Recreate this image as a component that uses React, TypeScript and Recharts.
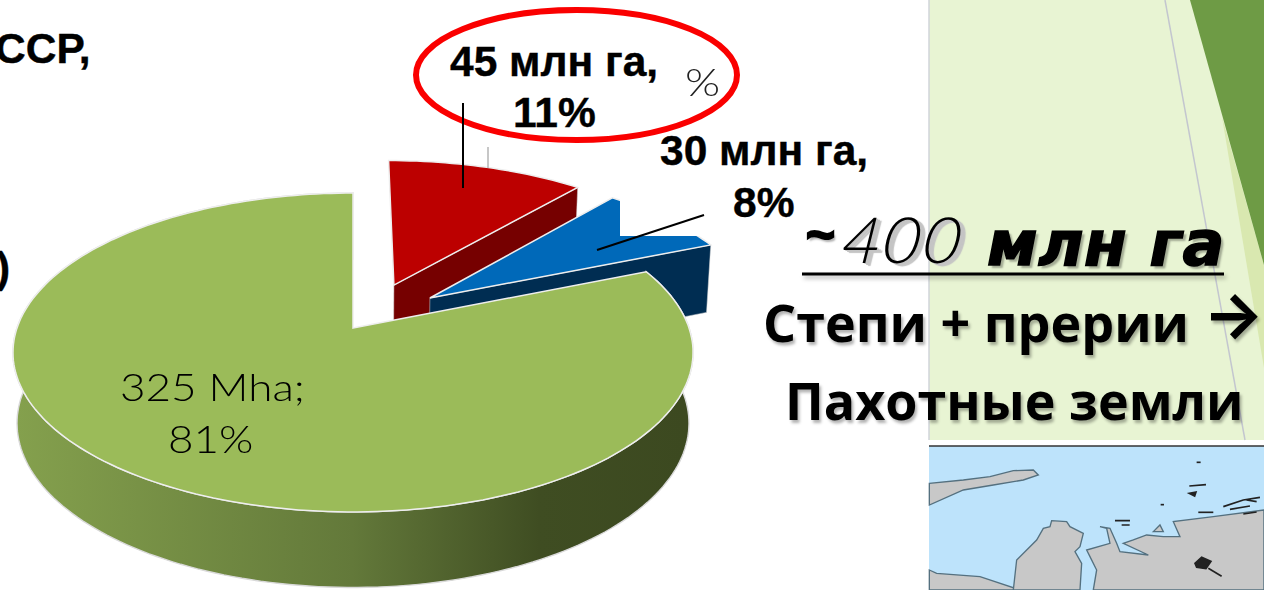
import { Pie, PieChart } from "recharts";
import type { CSSProperties } from "react";

const sliceNames = ["Распаханные степи", "Прерии", "Прочее"];
const sliceValues = [45, 30, 325];
const shortLabels = ["45 млн га,", "30 млн га,", "325 Mha;"];
const percentLabels = ["11%", "8%", "81%"];

const pieData = sliceNames.map((name, i) => ({ name, value: sliceValues[i] }));

const faceColors = ["#bc0000", "#0069b9", "#9bbb59"];
const wallColors = ["#760000", "#002d52", "url(#greenWall)"];
// how far each slice is pulled out, in disc units
const explodeU = [0.127, 0.236, 0];
const explodeV = [0.288, 0.1985, 0];

const PERSPECTIVE = 0.1536;
const FLATTEN = 0.4634;
const BASE_SX = 0.988;
const BASE_SY = 1.03;
const BASE_DY = 70;

function project(cx: number, cy: number, r: number, u: number, v: number, base = false) {
  const d = 1 + PERSPECTIVE * v;
  const sx = base ? BASE_SX : 1;
  const sy = base ? BASE_SY : 1;
  return [cx + (sx * r * u) / d, cy + (base ? BASE_DY : 0) - (sy * r * FLATTEN * v) / d];
}

const toPath = (pts: number[][]) =>
  "M" + pts.map((p) => `${p[0].toFixed(1)} ${p[1].toFixed(1)}`).join("L") + "Z";

function Slice3D(props: any) {
  const { cx, cy, outerRadius, startAngle, endAngle, index } = props;
  const ou = explodeU[index];
  const ov = explodeV[index];
  const from = ((90 - startAngle) * Math.PI) / 180;
  const to = ((90 - endAngle) * Math.PI) / 180;
  const steps = Math.max(8, Math.round((to - from) * 40));
  const arc: number[][] = [];
  for (let i = 0; i <= steps; i++) {
    const t = from + ((to - from) * i) / steps;
    arc.push([ou + Math.sin(t), ov + Math.cos(t)]);
  }
  const top = arc.map((p) => project(cx, cy, outerRadius, p[0], p[1]));
  const base = arc.map((p) => project(cx, cy, outerRadius, p[0], p[1], true));
  const apex = project(cx, cy, outerRadius, ou, ov);
  const apexBase = project(cx, cy, outerRadius, ou, ov, true);

  let wall: number[][];
  if (index === 2) {
    wall = [...top, ...base.slice().reverse()];
  } else {
    // only the cut side at the end of the slice faces us
    wall = [apex, top[top.length - 1], base[base.length - 1], apexBase];
  }
  return (
    <g>
      {index === 2 && (
        <defs>
          <linearGradient id="greenWall" gradientUnits="userSpaceOnUse" x1={18} x2={686} y1={0} y2={0}>
            <stop offset="0%" stopColor="#84a04d" />
            <stop offset="50%" stopColor="#63793a" />
            <stop offset="78%" stopColor="#3f4d22" />
            <stop offset="100%" stopColor="#3c4920" />
          </linearGradient>
        </defs>
      )}
      <path d={toPath(wall)} fill={wallColors[index]} stroke="#d9d9d9" strokeWidth={index === 2 ? 1.4 : 0.5} />
      <path d={toPath([apex, ...top])} fill={faceColors[index]} stroke="#eeeeee" strokeWidth={1.5} />
    </g>
  );
}

const boldLabel: CSSProperties = {
  position: "absolute",
  fontFamily: "Liberation Sans",
  fontWeight: 700,
  fontSize: 42.5,
  color: "#000",
  whiteSpace: "nowrap",
  lineHeight: "44px",
  WebkitTextStroke: "0.4px #000",
};

const slideText: CSSProperties = {
  position: "absolute",
  fontFamily: "Open Sans",
  fontWeight: 700,
  fontSize: 52,
  color: "#000",
  whiteSpace: "nowrap",
  textShadow: "2px 3px 3px rgba(0,0,0,0.3)",
};

const thinLabel: CSSProperties = {
  position: "absolute",
  fontFamily: "Lato",
  fontWeight: 300,
  fontSize: 37,
  color: "#000",
  whiteSpace: "nowrap",
  transformOrigin: "left top",
  transform: "scaleX(1.19)",
};

const headingBase: CSSProperties = {
  position: "absolute",
  color: "#000",
  whiteSpace: "nowrap",
  fontStyle: "italic",
};

export default function App() {
  return (
    <div style={{ position: "absolute", left: 0, top: 0, width: 1264, height: 590, overflow: "hidden", background: "#fff" }}>
      {/* slide background on the right */}
      <svg width={1264} height={590} style={{ position: "absolute", left: 0, top: 0 }}>
        <rect x={929} y={0} width={335} height={440} fill="#e8f4d3" />
        <line x1={929} y1={0} x2={929} y2={440} stroke="#d0d4da" strokeWidth={1.5} />
        <line x1={1165} y1={0} x2={1245} y2={440} stroke="#c3c6cf" strokeWidth={1.5} />
        <polygon points="1222,117 1264,265 1264,368" fill="#d9e8b0" />
        <polygon points="1190,0 1264,0 1264,265" fill="#6e9b45" />
        <rect x={929} y={446} width={335} height={144} fill="#bde3fb" />
        <line x1={929} y1={446} x2={1264} y2={446} stroke="#333" strokeWidth={1.5} />
        <g transform="translate(880 400) scale(0.3333)" fill="#c8c8c8" stroke="#54707f" strokeWidth={4}>
          <path d="M148 250L250 240L330 230L400 212L460 210L475 225L430 240L340 255L250 270L148 315Z" />
          <path d="M148 510L170 520L300 530L420 570L148 570Z" />
          <path d="M400 570L410 480L470 420L490 385L510 380L515 362L560 365L570 380L610 400L600 440L585 455L605 490L600 570Z" />
          <path d="M640 570L650 510L630 470L620 450L690 430L680 385L660 380L690 385L710 430L720 455L805 465L730 430L760 420L800 405L850 410L900 410L880 365L1000 350L1152 330L1152 570Z" />
          <path d="M820 395L840 375L850 395Z" />
          <g fill="none" stroke="#222" strokeWidth={5}>
            <path d="M950 187h12" />
            <path d="M928 258l50 -4" />
            <path d="M928 280l20 -4l-4 12Z" fill="#222" />
            <path d="M842 314h10" />
            <path d="M1030 320l60 -20l50 -8M1050 328l60 -10M1090 342l40 -6M1100 300l30 5" />
            <path d="M945 490l20 -18l28 12l-15 22l-28 -4Z" fill="#222" />
            <path d="M985 505l40 24" />
            <path d="M955 337h45" />
            <path d="M705 362h45M725 375h24" />
          </g>
        </g>
      </svg>

      <div style={{ position: "absolute", left: 0, top: 0 }}>
        <PieChart width={1264} height={590} margin={{ top: 0, right: 0, bottom: 0, left: 0 }}>
          <Pie
            data={pieData}
            dataKey="value"
            nameKey="name"
            cx={353}
            cy={328}
            outerRadius={336}
            startAngle={90}
            endAngle={-270}
            stroke="none"
            labelLine={false}
            isAnimationActive={false}
            shape={Slice3D}
          />
        </PieChart>
      </div>

      {/* the white patch and leader lines sit over the slices */}
      <svg width={1264} height={590} style={{ position: "absolute", left: 0, top: 0 }}>
        <rect x={620} y={190} width={95} height={46} fill="#fff" />
        <line x1={488} y1={147} x2={488} y2={168} stroke="#b5b5b5" strokeWidth={1.5} />
        <ellipse cx={576.5} cy={75} rx={160.5} ry={65} fill="none" stroke="#fa0000" strokeWidth={6} />
        <line x1={463} y1={103} x2={463} y2={188} stroke="#000" strokeWidth={2} />
        <line x1={704} y1={215} x2={597} y2={250} stroke="#000" strokeWidth={2} />
        <line x1={802} y1={274} x2={1224} y2={274} stroke="#000" strokeWidth={3} style={{ filter: "drop-shadow(2px 3px 2px rgba(0,0,0,0.3))" }} />
      </svg>

      <div style={{ ...boldLabel, left: -5, top: 27 }}>ССР,</div>
      <div style={{ ...boldLabel, left: -4, top: 246 }}>)</div>

      <div style={{ ...boldLabel, left: 450, top: 40 }}>{shortLabels[0]}</div>
      <div style={{ ...boldLabel, left: 513, top: 91 }}>{percentLabels[0]}</div>
      <div style={{ position: "absolute", left: 685, top: 59, fontFamily: "Lato", fontWeight: 300, fontSize: 37, color: "#222", transformOrigin: "left top", transform: "scaleX(1.22)" }}>%</div>
      <div style={{ ...boldLabel, left: 660, top: 129 }}>{shortLabels[1]}</div>
      <div style={{ ...boldLabel, left: 733, top: 181 }}>{percentLabels[1]}</div>

      <div style={{ ...thinLabel, left: 120, top: 364 }}>{shortLabels[2]}</div>
      <div style={{ ...thinLabel, left: 168, top: 416 }}>{percentLabels[2]}</div>

      <div style={{ ...headingBase, left: 805, top: 206, fontFamily: "Liberation Sans", fontWeight: 700, fontSize: 50, WebkitTextStroke: "2px #000", textShadow: "2px 3px 2px rgba(0,0,0,0.3)" }}>~</div>
      <div style={{ ...headingBase, fontStyle: "normal", left: 835, top: 200, fontFamily: "Lato", fontWeight: 300, fontSize: 64, letterSpacing: 3, transformOrigin: "left bottom", transform: "skewX(-14deg)", textShadow: "2px 1px 0 #c4c4c4, 4px 2px 0 #c4c4c4, 6px 3px 1px #c4c4c4" }}>400</div>
      <div style={{ ...headingBase, left: 987, top: 207, fontFamily: "DejaVu Sans", fontWeight: 700, fontSize: 62, letterSpacing: 0.5, WebkitTextStroke: "1.5px #000", textShadow: "3px 3px 2px rgba(0,0,0,0.3)" }}>млн га</div>

      <div style={{ ...slideText, left: 763, top: 286 }}>Степи + прерии</div>
      <div style={{ ...slideText, left: 1203, top: 275, fontFamily: "Inter", fontSize: 64 }}>→</div>
      <div style={{ ...slideText, left: 785, top: 364 }}>Пахотные земли</div>
    </div>
  );
}
